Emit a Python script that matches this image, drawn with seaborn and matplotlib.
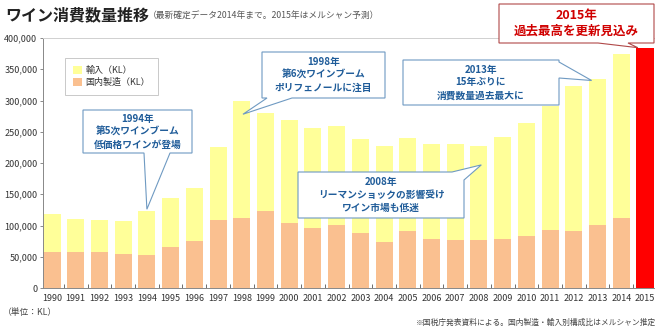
import numpy as np
import pandas as pd
import matplotlib
matplotlib.use("Agg")
import matplotlib.pyplot as plt
import seaborn as sns
from matplotlib.patches import Polygon, Patch
from matplotlib.ticker import FuncFormatter, FixedLocator

# ---- data (KL) ----
years = [str(y) for y in range(1990, 2016)]
total = [118400, 110400, 109300, 107700, 123200, 143500, 159500, 226100,
         299700, 280500, 268800, 255500, 259700, 239000, 227700, 240000,
         230400, 230400, 227700, 242100, 264500, 291200, 323200, 334400,
         374400, 383500]
domestic = [58100, 58000, 57600, 53900, 52800, 65100, 75700, 108800,
            112500, 122700, 104500, 96500, 101300, 87500, 74100, 90700,
            78400, 77300, 77300, 78400, 83200, 92300, 91200, 100300,
            111500, np.nan]
y_ticks = [0, 50000, 100000, 150000, 200000, 250000, 300000, 350000, 400000]

df = pd.DataFrame({"year": years, "total": total, "domestic": domestic})

YELLOW = "#FFFF99"
ORANGE = "#FAC090"
RED = "#FF0000"
BLUE_TXT = "#1F5C99"
BLUE_EDGE = "#6F9AC2"

sns.set_style("white")
plt.rcParams["font.family"] = ["Noto Sans CJK JP", "DejaVu Sans"]

W, H = 670, 335
fig = plt.figure(figsize=(W / 100, H / 100), dpi=100)
fig.patch.set_facecolor("white")
ax = fig.add_axes([43 / W, 47 / H, (654 - 43) / W, 250 / H])

bar_colors = {y: (RED if y == "2015" else YELLOW) for y in years}
sns.barplot(data=df, x="year", y="total", hue="year", order=years,
            hue_order=years, palette=bar_colors, legend=False,
            width=0.72, saturation=1, errorbar=None, linewidth=0, ax=ax)
sns.barplot(data=df, x="year", y="domestic", order=years, color=ORANGE,
            width=0.72, saturation=1, errorbar=None, linewidth=0, ax=ax)

ax.set_xlim(-0.38, len(years) - 1 + 0.38)
ax.set_ylim(0, 400000)
ax.set_xlabel("")
ax.set_ylabel("")
ax.yaxis.set_major_locator(FixedLocator(y_ticks))
ax.yaxis.set_major_formatter(FuncFormatter(lambda v, p: f"{int(v):,}"))
ax.tick_params(axis="y", labelsize=6.5, labelcolor="#333333", length=2,
               width=0.6, color="#777777", pad=2, left=True)
ax.tick_params(axis="x", labelsize=6.5, labelcolor="#333333", length=0, pad=4)
ax.xaxis.set_minor_locator(FixedLocator(np.arange(0.5, len(years) - 1, 1.0)))
ax.tick_params(axis="x", which="minor", direction="in", length=3, width=0.6,
               color="#555555", bottom=True)
for s in ["left", "bottom"]:
    ax.spines[s].set_color("#888888")
    ax.spines[s].set_linewidth(0.7)
ax.spines["top"].set_color("#D0D0D0")
ax.spines["top"].set_linewidth(0.7)
ax.spines["right"].set_visible(False)
ax.grid(False)

# ---- legend ----
handles = [Patch(facecolor=YELLOW, edgecolor="none", label="輸入（KL）"),
           Patch(facecolor=ORANGE, edgecolor="none", label="国内製造（KL）")]
leg = ax.legend(handles=handles, loc="upper left",
                bbox_to_anchor=(60 / W, 1 - 53 / H),
                bbox_transform=fig.transFigure, fontsize=6.5, frameon=True,
                fancybox=False, edgecolor="#BBBBBB", handlelength=1.0,
                handleheight=1.0, handletextpad=0.4, borderpad=0.9,
                labelspacing=0.35)
leg.get_frame().set_linewidth(0.7)
for t in leg.get_texts():
    t.set_color("#333333")


# ---- titles and notes ----
def fx(x):
    return x / W


def fy(y):
    return 1 - y / H


fig.text(fx(5), fy(15), "ワイン消費数量推移", fontsize=11.5, weight="bold",
         color="#222222", va="center", ha="left")
fig.text(fx(148), fy(16), "（最新確定データ2014年まで。2015年はメルシャン予測）",
         fontsize=6.3, color="#555555", va="center", ha="left")
fig.text(fx(3), fy(313), "（単位：KL）", fontsize=6.3, color="#444444",
         va="center", ha="left")
fig.text(fx(656), fy(323),
         "※国税庁発表資料による。国内製造・輸入別構成比はメルシャン推定",
         fontsize=5.6, color="#444444", va="center", ha="right")


# ---- speech-bubble callouts ----
def callout(box, side, base, apex, lines, txt_color, edge_color,
            fontsize, weight="bold", lw=0.8, linespacing=1.35):
    x0, y0, x1, y1 = box
    ax_, ay_ = apex
    b1, b2 = base
    if side == "bottom":
        pts = [(x0, y0), (x1, y0), (x1, y1), (b2, y1), (ax_, ay_),
               (b1, y1), (x0, y1)]
    elif side == "top":
        pts = [(x0, y0), (b1, y0), (ax_, ay_), (b2, y0), (x1, y0),
               (x1, y1), (x0, y1)]
    elif side == "right":
        pts = [(x0, y0), (x1, y0), (x1, b1), (ax_, ay_), (x1, b2),
               (x1, y1), (x0, y1)]
    else:  # spans the top-right corner
        pts = [(x0, y0), (b1, y0), (ax_, ay_), (x1, b2), (x1, y1), (x0, y1)]
    poly = Polygon([(fx(p[0]), fy(p[1])) for p in pts], closed=True,
                   facecolor="white", edgecolor=edge_color, linewidth=lw,
                   transform=fig.transFigure, zorder=10)
    fig.add_artist(poly)
    fig.text(fx((x0 + x1) / 2), fy((y0 + y1) / 2), "\n".join(lines),
             fontsize=fontsize, weight=weight, color=txt_color,
             ha="center", va="center", linespacing=linespacing, zorder=11)


xi = {y: i for i, y in enumerate(years)}


def apex_px(year, offset, value):
    dx, dy = ax.transData.transform((xi[year] + offset, value))
    return dx * W / fig.bbox.width, H - dy * H / fig.bbox.height


callout((83, 110, 192, 153), "bottom", (144, 170), apex_px("1994", 0.0, 126000),
        ["1994年", "第5次ワインブーム", "低価格ワインが登場"],
        BLUE_TXT, BLUE_EDGE, 7.0)
callout((262, 52, 385, 98), "bottom", (267, 292), apex_px("1998", 0.05, 278000),
        ["1998年", "第6次ワインブーム", "ポリフェノールに注目"],
        BLUE_TXT, BLUE_EDGE, 7.0)
callout((298, 172, 464, 218), "corner", (452, 180), apex_px("2008", 0.1, 197000),
        ["2008年", "リーマンショックの影響受け", "ワイン市場も低迷"],
        BLUE_TXT, BLUE_EDGE, 7.0)
callout((403, 60, 559, 105), "right", (62, 78), apex_px("2013", -0.25, 332000),
        ["2013年", "15年ぶりに", "消費数量過去最大に"],
        BLUE_TXT, BLUE_EDGE, 7.0)
callout((499, 4, 654, 43), "bottom", (598, 628), apex_px("2015", -0.3, 384500),
        ["2015年", "過去最高を更新見込み"],
        "#D00000", "#B04848", 9.0, linespacing=1.2)

fig.savefig("out.png", dpi=100, facecolor="white")
